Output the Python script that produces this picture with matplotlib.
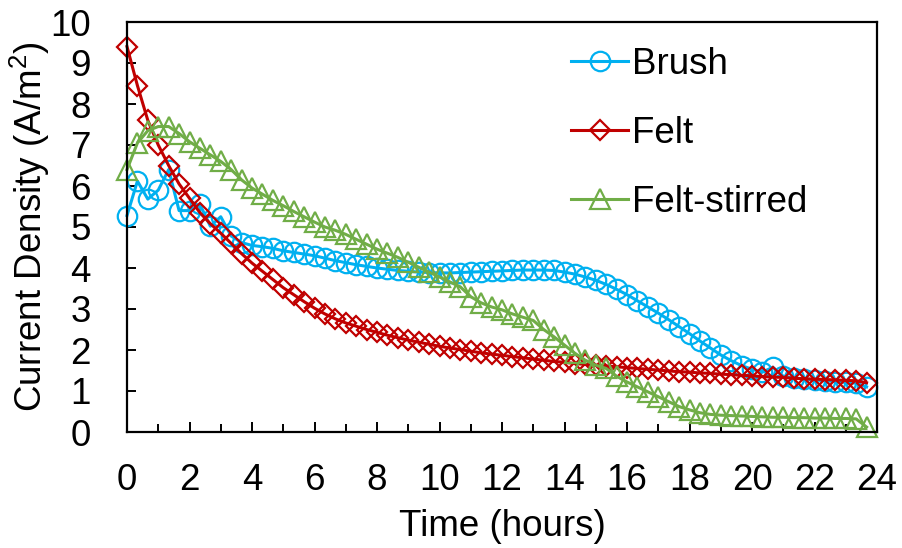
import numpy as np
import matplotlib
matplotlib.use("Agg")
import matplotlib.pyplot as plt
from matplotlib.ticker import MultipleLocator

plt.rcParams['font.family'] = ['Liberation Sans', 'DejaVu Sans']
plt.rcParams['mathtext.fontset'] = 'custom'
plt.rcParams['mathtext.rm'] = 'Liberation Sans'
plt.rcParams['mathtext.it'] = 'Liberation Sans'

# time in hours (20-minute sampling)
n_points = 72
time_h = np.arange(n_points) / 3.0

brush = [5.28, 6.12, 5.68, 5.90, 6.40, 5.40, 5.40, 5.55, 5.02, 5.25,
         4.78, 4.62, 4.55, 4.52, 4.48, 4.42, 4.38, 4.34, 4.30, 4.24,
         4.18, 4.13, 4.08, 4.04, 4.00, 3.97, 3.94, 3.92, 3.90, 3.89,
         3.88, 3.88, 3.89, 3.90, 3.91, 3.92, 3.93, 3.94, 3.95, 3.95,
         3.95, 3.94, 3.90, 3.85, 3.78, 3.70, 3.60, 3.48, 3.35, 3.20,
         3.05, 2.90, 2.74, 2.57, 2.40, 2.22, 2.05, 1.88, 1.74, 1.62,
         1.53, 1.46, 1.58, 1.36, 1.32, 1.29, 1.27, 1.25, 1.23, 1.21,
         1.19, 1.10]

felt = [9.40, 8.45, 7.60, 7.00, 6.50, 6.05, 5.70, 5.35, 5.08, 4.85,
        4.60, 4.35, 4.12, 3.92, 3.72, 3.52, 3.35, 3.18, 3.02, 2.88,
        2.76, 2.66, 2.58, 2.50, 2.43, 2.36, 2.30, 2.24, 2.19, 2.14,
        2.09, 2.05, 2.01, 1.97, 1.93, 1.90, 1.87, 1.84, 1.81, 1.78,
        1.75, 1.72, 1.70, 1.67, 1.65, 1.63, 1.61, 1.59, 1.57, 1.55,
        1.53, 1.51, 1.49, 1.47, 1.46, 1.44, 1.43, 1.41, 1.40, 1.38,
        1.37, 1.35, 1.34, 1.33, 1.31, 1.30, 1.29, 1.28, 1.27, 1.26,
        1.25, 1.20]

felt_stirred = [6.40, 7.05, 7.35, 7.45, 7.45, 7.28, 7.08, 6.92, 6.76, 6.60,
                6.40, 6.15, 5.95, 5.80, 5.65, 5.52, 5.38, 5.25, 5.12, 5.00,
                4.92, 4.82, 4.70, 4.58, 4.46, 4.36, 4.26, 4.14, 4.02, 3.90,
                3.78, 3.66, 3.54, 3.30, 3.15, 3.05, 2.98, 2.88, 2.80, 2.72,
                2.50, 2.32, 2.12, 1.92, 1.75, 1.63, 1.55, 1.36, 1.22, 1.10,
                0.98, 0.86, 0.74, 0.62, 0.54, 0.47, 0.43, 0.41, 0.40, 0.39,
                0.38, 0.37, 0.36, 0.36, 0.35, 0.35, 0.34, 0.34, 0.33, 0.33,
                0.32, 0.12]

labels = ["Brush", "Felt", "Felt-stirred"]
colors = ["#00B0F0", "#C00000", "#70AD47"]
markers = ["o", "D", "^"]
sizes = [14, 10.5, 14.5]
series = [brush, felt, felt_stirred]

FS = 26.5

fig = plt.figure(figsize=(9.02, 5.48), dpi=100)
ax = fig.add_axes([127/902, 1 - 432/548, 750/902, 410/548])

for y, lab, c, m, s in zip(series, labels, colors, markers, sizes):
    ax.plot(time_h, y, color=c, lw=2.2, marker=m, ms=s, mfc='none',
            mec=c, mew=1.6, label=lab, clip_on=False)

ax.set_xlim(0, 24)
ax.set_ylim(0, 10)
ax.xaxis.set_major_locator(MultipleLocator(2))
ax.xaxis.set_minor_locator(MultipleLocator(1))
ax.yaxis.set_major_locator(MultipleLocator(1))

ax.tick_params(axis='both', which='both', direction='in', labelsize=FS,
               width=1.4, colors='black')
ax.tick_params(axis='x', which='major', length=7.5, pad=22)
ax.tick_params(axis='x', which='minor', length=5.5)
ax.tick_params(axis='y', which='major', length=6.5, pad=26)
for sp in ax.spines.values():
    sp.set_linewidth(1.6)

ax.set_xlabel("Time (hours)", fontsize=FS, labelpad=8)
ax.set_ylabel("Current Density (A/m$^{2}$)", fontsize=FS, labelpad=-1)

leg = ax.legend(loc='upper left', bbox_to_anchor=(0.592, 0.94), frameon=False,
                fontsize=FS, handlelength=1.55, handletextpad=0.12,
                labelspacing=0.93, borderpad=0, borderaxespad=0)

fig.savefig("out.png", dpi=100)
